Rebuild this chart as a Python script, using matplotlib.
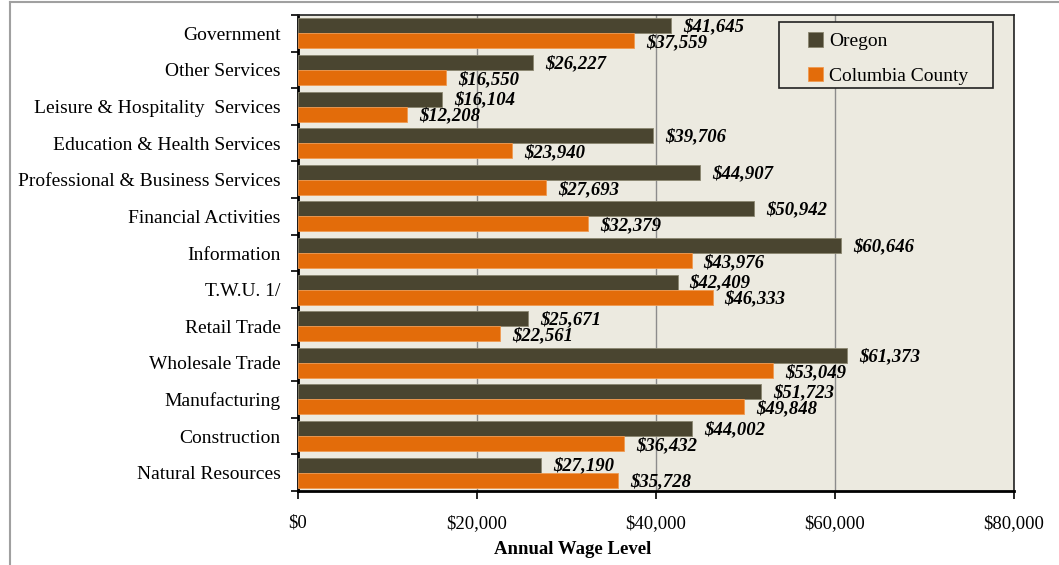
import matplotlib
matplotlib.use("Agg")
import matplotlib.pyplot as plt
from matplotlib.lines import Line2D
from matplotlib.patches import Rectangle
from matplotlib.ticker import FuncFormatter
import numpy as np

categories = ["Government", "Other Services", "Leisure & Hospitality  Services",
              "Education & Health Services", "Professional & Business Services",
              "Financial Activities", "Information", "T.W.U. 1/", "Retail Trade",
              "Wholesale Trade", "Manufacturing", "Construction", "Natural Resources"]
oregon = [41645, 26227, 16104, 39706, 44907, 50942, 60646, 42409, 25671, 61373, 51723, 44002, 27190]
columbia = [37559, 16550, 12208, 23940, 27693, 32379, 43976, 46333, 22561, 53049, 49848, 36432, 35728]
series_names = ["Oregon", "Columbia County"]
x_ticks = [0, 20000, 40000, 60000, 80000]

FONT = "Liberation Serif"
plt.rcParams['font.family'] = [FONT, 'DejaVu Serif']

W, H = 1059, 565
fig = plt.figure(figsize=(W/100, H/100), dpi=100)
fig.patch.set_facecolor("white")

# outer frame
fig.add_artist(Line2D([10/W, 10/W], [0, 1 - 1.5/H], color="#a0a0a0", lw=1.5, transform=fig.transFigure))
fig.add_artist(Line2D([10/W, 1], [1 - 1.5/H, 1 - 1.5/H], color="#a0a0a0", lw=1.5, transform=fig.transFigure))

ax = fig.add_axes([298/W, 74/H, 716/W, 476/H])
ax.set_facecolor("#ECEAE0")

n = len(categories)
y = np.arange(n)
h = 0.41
c_or = "#4A4530"
c_co = "#E36C0A"
ax.barh(y - h/2, oregon, height=h, color=c_or, edgecolor="#8a8670", linewidth=0.6, label=series_names[0], zorder=3)
ax.barh(y + h/2, columbia, height=h, color=c_co, edgecolor="#f09a50", linewidth=0.6, label=series_names[1], zorder=3)

ax.set_ylim(n - 0.5, -0.5)
ax.set_xlim(0, 80000)
ax.set_yticks(y)
ax.set_yticklabels(categories, fontsize=14)
ax.set_yticks(np.arange(-0.5, n, 1), minor=True)
ax.tick_params(axis='y', which='major', length=0, pad=12.5)
ax.tick_params(axis='y', which='minor', length=5, width=1.2, direction='out')
ax.set_xticks(x_ticks)
ax.xaxis.set_major_formatter(FuncFormatter(lambda v, p: "${:,.0f}".format(v)))
ax.tick_params(axis='x', length=6, width=1.2, direction='out', labelsize=13.5, pad=11)
ax.grid(axis='x', color="#8c8c8c", lw=1.0, zorder=1)

for s in ["left", "bottom"]:
    ax.spines[s].set_linewidth(2.0)
    ax.spines[s].set_color("black")
for s in ["top", "right"]:
    ax.spines[s].set_linewidth(1.2)
    ax.spines[s].set_color("#222222")

for i in range(n):
    ax.annotate("${:,.0f}".format(oregon[i]), (oregon[i], y[i] - h/2), xytext=(12, -1),
                textcoords="offset pixels",
                ha="left", va="center", fontsize=13.5, fontweight="bold", fontstyle="italic", zorder=4)
    ax.annotate("${:,.0f}".format(columbia[i]), (columbia[i], y[i] + h/2), xytext=(12, -2),
                textcoords="offset pixels",
                ha="left", va="center", fontsize=13.5, fontweight="bold", fontstyle="italic", zorder=4)

fig.text(573/W, 1 - 549/H, "Annual Wage Level", ha="center", va="center", fontsize=13.5, fontweight="bold")

# legend frame drawn manually
x0, x1, y0, y1 = 779, 993, 22, 88
ax.add_patch(Rectangle(((x0-298)/716, (491-y1)/476), (x1-x0)/716, (y1-y0)/476,
                       transform=ax.transAxes, facecolor="#ECEAE0", edgecolor="#222222",
                       lw=1.2, zorder=5))
leg = ax.legend(loc="center left", bbox_to_anchor=((808-298)/716, (491-58.5)/476),
                fontsize=14, frameon=False, handlelength=0.75, handleheight=0.75,
                handletextpad=0.35, labelspacing=0.85, borderpad=0, borderaxespad=0)
leg.set_zorder(6)

fig.savefig("out.png", dpi=100)
